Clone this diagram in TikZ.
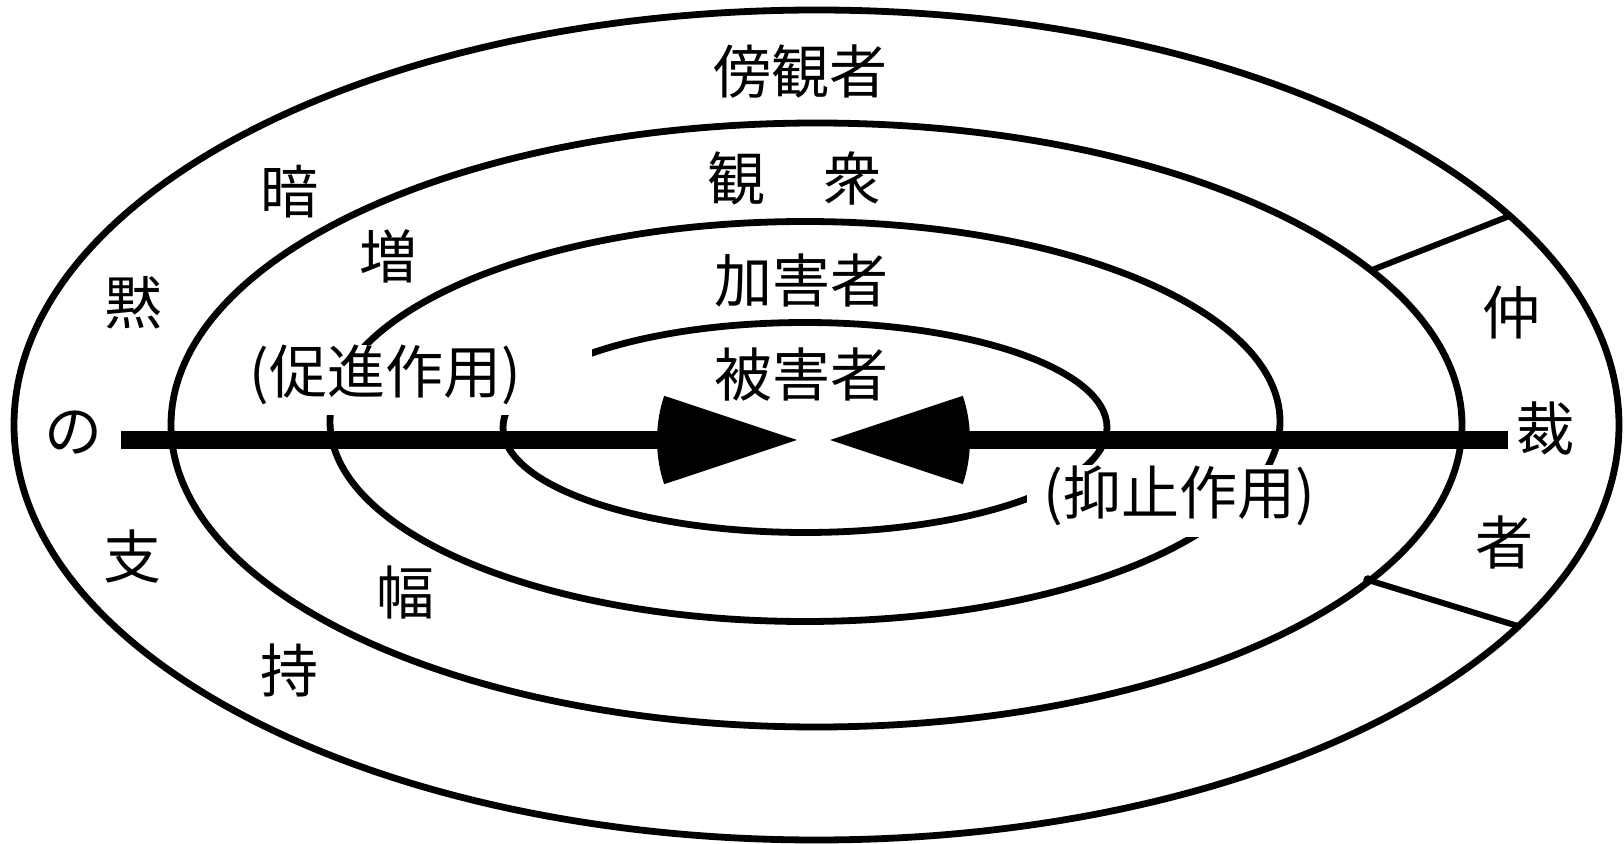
\documentclass[tikz,border=0pt]{standalone}
\usepackage{fontspec}
\setmainfont{Noto Sans CJK JP}
\begin{document}
\begin{tikzpicture}[x=0.5pt,y=-0.5pt,
  ring/.style={line width=3.4pt, draw=black},
  lbl/.style={inner sep=0pt, font=\fontsize{29pt}{29pt}\selectfont},
  mask/.style={fill=white},
  axisline/.style={line width=9pt},
  radial/.style={line width=3pt}]
\useasboundingbox[fill=white] (0,0) rectangle (1624,844);
% rings
\draw[ring] (816.5,425) ellipse [x radius=401.25pt, y radius=207.5pt];
\draw[ring] (816.5,425) ellipse [x radius=322.75pt, y radius=151pt];
\draw[ring] (805,421.5) ellipse [x radius=237.5pt, y radius=100pt];
\draw[ring] (805,427.5) ellipse [x radius=151pt, y radius=52.5pt];
% masks behind the two action labels
\fill[mask] (225,345) rectangle (592,415);
\fill[mask] (1027,465) rectangle (1330,537);
% radial separators
\coordinate (r1a) at (1372,270);
\coordinate (r1b) at (1512,215);
\coordinate (r2a) at (1368,580);
\coordinate (r2b) at (1521,627);
\draw[radial] (r1a) -- (r1b);
\draw[radial] (r2a) -- (r2b);
\fill (r2a) circle[radius=2.4pt];
% axis with opposing arrows
\coordinate (L0) at (121,440);
\coordinate (L1) at (1508,440);
\coordinate (tipR) at (797,440);
\coordinate (tipL) at (830,440);
\coordinate (backR) at (700,440);
\coordinate (backL) at (930,440);
\draw[axisline] (L0) -- (backR);
\draw[axisline] (backL) -- (L1);
\fill (tipR) -- ++(161.6:70pt) arc[start angle=161.6, end angle=198.4, radius=70pt] -- cycle;
\fill (tipL) -- ++(-18.4:70pt) arc[start angle=-18.4, end angle=18.4, radius=70pt] -- cycle;
% labels
\node[lbl] (bystander) at (800,72) {傍観者};
\node[lbl] (audience) at (794,178) {観　衆};
\node[lbl] (bully) at (801,280) {加害者};
\node[lbl] (victim) at (801,375) {被害者};
\node[lbl] (an) at (289,192) {暗};
\node[lbl] (zou) at (388,256) {増};
\node[lbl] (moku) at (133,303) {黙};
\node[lbl] (no) at (73,433) {の};
\node[lbl] (shi) at (132,557) {支};
\node[lbl] (fuku) at (405,592) {幅};
\node[lbl] (ji) at (289,670) {持};
\node[lbl] (chu) at (1511,312) {仲};
\node[lbl] (sai) at (1545,428) {裁};
\node[lbl] (sha) at (1504,542) {者};
\node[lbl] (promote) at (385,375) {(促進作用)};
\node[lbl] (suppress) at (1179,496) {(抑止作用)};
\end{tikzpicture}
\end{document}
